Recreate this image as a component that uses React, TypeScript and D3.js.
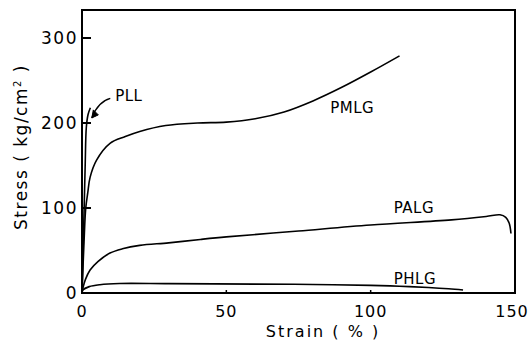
import React from "react";
import * as d3 from "d3";

// stress-strain curves (strain %, stress kg/cm2)
const pllPoints: [number, number][] = [
  [0, 0], [0.6, 80], [1.1, 150], [1.5, 195], [2.1, 210], [2.9, 218],
];
const pmlgPoints: [number, number][] = [
  [0, 0], [0.7, 60], [1.3, 100], [2, 118], [2.8, 136], [5, 156], [9.7, 176],
  [15, 184], [20, 190], [29, 197], [40, 200], [50, 201], [60, 205], [70, 213],
  [80, 226], [90, 242], [100, 260], [110, 279],
];
const palgPoints: [number, number][] = [
  [0, 0], [0.4, 7], [1.2, 16], [2.8, 27], [5.5, 37], [9.7, 47], [14, 52],
  [20, 56], [30, 59], [41, 63], [50, 66], [75, 73], [100, 80], [128, 86],
  [140, 90], [144.8, 92], [146.8, 89], [148, 82], [148.6, 70],
];
const phlgPoints: [number, number][] = [
  [0, 0], [0.3, 3.5], [2.5, 7.5], [6.2, 9.8], [13, 11.2], [30, 11], [60, 10.5],
  [80, 10], [100, 9], [110, 8], [120, 6.5], [127, 5], [132, 3.5],
];

const xTicks = [0, 50, 100, 150];
const yTicks = [0, 100, 200, 300];

const labels = [
  { text: "PLL", strain: 11.5, stress: 226 },
  { text: "PMLG", strain: 86, stress: 212 },
  { text: "PALG", strain: 108, stress: 94 },
  { text: "PHLG", strain: 108, stress: 11 },
];

const font = "'DejaVu Sans', sans-serif";

export default function App() {
  const width = 530;
  const height = 348;

  const x = d3.scaleLinear().domain([0, 150]).range([82, 515]);
  const y = d3.scaleLinear().domain([0, 300]).range([293, 38]);
  const yTop = y.invert(10);

  const line = d3
    .line<[number, number]>()
    .x((d) => x(d[0]))
    .y((d) => y(d[1]))
    .curve(d3.curveCatmullRom.alpha(0.5));

  const curves = [pllPoints, pmlgPoints, palgPoints, phlgPoints];

  // arrow pointing to PLL
  const a0: [number, number] = [x(9.8), y(229)];
  const a1: [number, number] = [x(3.4), y(206)];
  const ctrl: [number, number] = [x(5.5), y(225)];

  return (
    <svg
      width={width}
      height={height}
      style={{ position: "absolute", left: 0, top: 0, background: "#fff" }}
    >
      <rect
        x={x(0)}
        y={y(yTop)}
        width={x(150) - x(0)}
        height={y(0) - y(yTop)}
        fill="none"
        stroke="#000"
        strokeWidth={2}
      />

      {yTicks.map((t) => (
        <g key={"y" + t}>
          <line x1={x(0)} x2={x(0) + 9} y1={y(t)} y2={y(t)} stroke="#000" strokeWidth={2} />
          <text
            x={x(0) - 4}
            y={y(t)}
            dy="0.36em"
            textAnchor="end"
            fontFamily={font}
            fontSize={17}
            letterSpacing={1.5}
          >
            {t}
          </text>
        </g>
      ))}

      {xTicks.map((t) => (
        <g key={"x" + t}>
          <line x1={x(t)} x2={x(t)} y1={y(0)} y2={y(0) - 3} stroke="#000" strokeWidth={1.5} />
          <text
            x={t === 150 ? x(t) - 3 : x(t)}
            y={317}
            textAnchor="middle"
            fontFamily={font}
            fontSize={16}
            letterSpacing={1}
          >
            {t}
          </text>
        </g>
      ))}

      <text
        x={323}
        y={337}
        textAnchor="middle"
        fontFamily={font}
        fontSize={16}
        letterSpacing={2}
      >
        Strain ( % )
      </text>

      <text
        transform="translate(27,147) rotate(-90)"
        textAnchor="middle"
        fontFamily={font}
        fontSize={17}
        letterSpacing={1.5}
      >
        Stress ( kg/cm
        <tspan dy={-6} fontSize={10}>2</tspan>
        <tspan dy={6}> )</tspan>
      </text>

      {curves.map((c, i) => (
        <path key={i} d={line(c) || ""} fill="none" stroke="#000" strokeWidth={1.6} />
      ))}

      <path
        d={`M${a0[0]},${a0[1]} Q${ctrl[0]},${ctrl[1]} ${a1[0]},${a1[1]}`}
        fill="none"
        stroke="#000"
        strokeWidth={1.4}
      />
      <path
        d={`M${a1[0]},${a1[1]} l1.5,-8 l5,5 z`}
        fill="#000"
        stroke="#000"
        strokeWidth={1}
      />

      {labels.map((l) => (
        <text
          key={l.text}
          x={x(l.strain)}
          y={y(l.stress)}
          fontFamily={font}
          fontSize={15}
          letterSpacing={0.5}
        >
          {l.text}
        </text>
      ))}
    </svg>
  );
}
